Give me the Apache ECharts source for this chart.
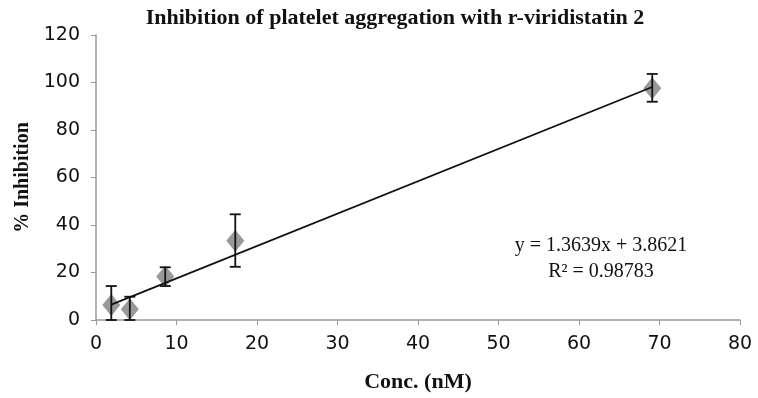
<!DOCTYPE html>
<html>
<head>
<meta charset="utf-8">
<script src="https://cdn.jsdelivr.net/npm/echarts@6/dist/echarts.min.js"></script>
<style>
  html, body { margin: 0; padding: 0; background: #fff; }
  #chart { width: 758px; height: 398px; }
</style>
</head>
<body>
<div id="chart"></div>
<script>
// values
var conc = [1.9, 4.2, 8.6, 17.3, 69.1];
var inhibition = [6.3, 4.5, 18.3, 33.4, 97.6];
var errLow = [0, 0, 14.3, 22.4, 91.9];
var errHigh = [14.3, 9.8, 22.2, 44.5, 103.6];
var trendX = [1.9, 69.1];
var trendY = [6.5, 98.1];
var equationText = ['y = 1.3639x + 3.8621', 'R² = 0.98783'];

var myChart = echarts.init(document.getElementById('chart'));

var points = [];
var bars = [];
var trend = [];
for (var i = 0; i < conc.length; i++) {
    points.push([conc[i], inhibition[i]]);
    bars.push([conc[i], errLow[i], errHigh[i]]);
}
for (var j = 0; j < trendX.length; j++) {
    trend.push([trendX[j], trendY[j]]);
}

var axisFont = 'DejaVu Sans';
var serif = 'Liberation Serif';

// equation label, one text per line, centred
var eqGraphics = equationText.map(function (t, k) {
    return {
        type: 'text',
        x: 601, y: 246 + k * 26,
        style: {
            text: t,
            align: 'center',
            verticalAlign: 'middle',
            fontFamily: serif, fontSize: 20, fill: '#111'
        }
    };
});

option = {
    animation: false,
    backgroundColor: '#fff',
    title: {
        text: 'Inhibition of platelet aggregation with r-viridistatin 2',
        left: 390,
        textAlign: 'center',
        top: 2,
        textStyle: { fontFamily: serif, fontWeight: 'bold', fontSize: 22, color: '#111' }
    },
    grid: { left: 96, right: 18, top: 35, bottom: 78 },
    xAxis: {
        type: 'value',
        min: 0, max: 80, interval: 10,
        name: 'Conc. (nM)',
        nameLocation: 'middle',
        nameGap: 51,
        nameTextStyle: { fontFamily: serif, fontWeight: 'bold', fontSize: 22, color: '#111' },
        axisLine: { show: true, lineStyle: { color: '#999', width: 1.5 } },
        axisTick: { show: true, length: 5, lineStyle: { color: '#999' } },
        axisLabel: { fontFamily: axisFont, fontSize: 19, color: '#111', margin: 15 },
        splitLine: { show: false }
    },
    yAxis: {
        type: 'value',
        min: 0, max: 120, interval: 20,
        name: '% Inhibition',
        nameLocation: 'middle',
        nameGap: 61,
        nameRotate: 90,
        nameTextStyle: { fontFamily: serif, fontWeight: 'bold', fontSize: 20, color: '#111' },
        axisLine: { show: true, lineStyle: { color: '#999', width: 1.5 } },
        axisTick: { show: true, length: 5, lineStyle: { color: '#999' } },
        axisLabel: { fontFamily: axisFont, fontSize: 19, color: '#111', margin: 16 },
        splitLine: { show: false }
    },
    graphic: eqGraphics,
    series: [
        {
            type: 'line',
            data: trend,
            showSymbol: false,
            lineStyle: { color: '#111', width: 1.8 },
            z: 3
        },
        {
            type: 'scatter',
            data: points,
            symbol: 'diamond',
            symbolSize: [18, 22],
            itemStyle: { color: '#7f7f7f' },
            z: 2
        },
        {
            type: 'custom',
            data: bars,
            z: 4,
            renderItem: function (params, api) {
                var x = api.value(0);
                var lo = api.coord([x, api.value(1)]);
                var hi = api.coord([x, api.value(2)]);
                var w = 5.5;
                var st = { stroke: '#111', lineWidth: 1.8 };
                return {
                    type: 'group',
                    children: [
                        { type: 'line', shape: { x1: lo[0], y1: lo[1], x2: hi[0], y2: hi[1] }, style: st },
                        { type: 'line', shape: { x1: hi[0] - w, y1: hi[1], x2: hi[0] + w, y2: hi[1] }, style: st },
                        { type: 'line', shape: { x1: lo[0] - w, y1: lo[1], x2: lo[0] + w, y2: lo[1] }, style: st }
                    ]
                };
            }
        }
    ]
};

myChart.setOption(option);
</script>
</body>
</html>
